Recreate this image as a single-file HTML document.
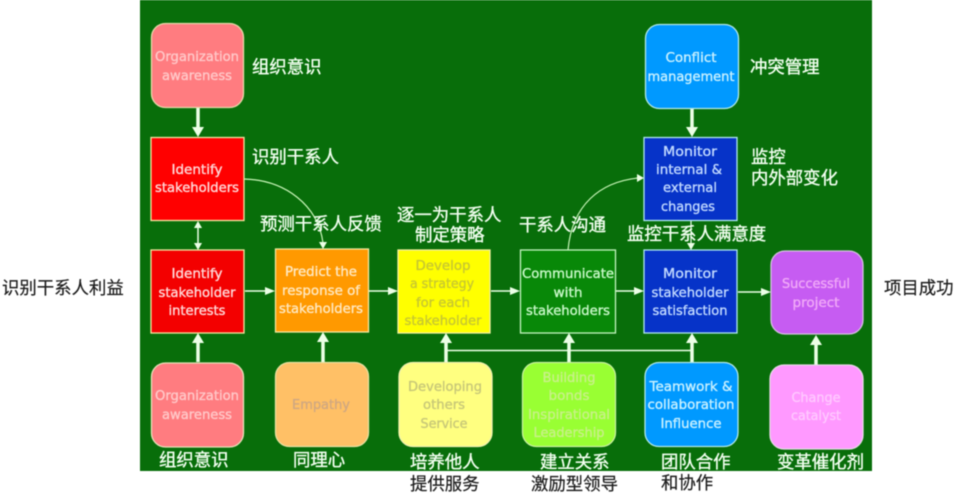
<!DOCTYPE html>
<html>
<head>
<meta charset="utf-8">
<style>
html,body{margin:0;padding:0;background:#fff;width:955px;height:498px;overflow:hidden}
svg{display:block;filter:blur(0.45px)}
.e{font-family:"DejaVu Sans","Liberation Sans",sans-serif;font-size:13.5px;text-anchor:middle}
.e g{stroke-width:.35}
.c{font-family:"Liberation Sans","Noto Sans CJK SC",sans-serif;font-size:17.4px;font-weight:400}
.w{fill:#f2fff0;stroke:#f2fff0;stroke-width:.35}
.d{fill:#1c1c1c;stroke:#1c1c1c;stroke-width:.2}
</style>
</head>
<body>
<svg width="955" height="498" viewBox="0 0 955 498" xmlns="http://www.w3.org/2000/svg">
<rect x="140" y="0" width="732" height="471" fill="#086e0a"/>

<!-- connectors -->
<g stroke="#ecffe6" fill="none">
<path d="M198 107V129M323 338V362M198 338V362M446 338V362M569 338V362M692 338V362M816 340V365M692 109V129" stroke-width="3.500"/>
<path d="M198 226V245M245 291H266M369 291H389M491 291H511M616 291H635M738 292H762" stroke-width="1.500"/>
<path d="M446 350.500H692" stroke-width="1.500"/>
<path d="M244 179C285 180 318 205 323 243" stroke-width="1.200" stroke="#c8f5b8"/>
<path d="M568 250C572 205 600 182 638 178" stroke-width="1.200" stroke="#c8f5b8"/>
<path d="M691 220V245" stroke-width="1.200"/>
</g>
<g fill="#ecffe6">
<path d="M192 127H204L198 137Z"/>
<path d="M686 127H698L692 137Z"/>
<path d="M192 343H204L198 333Z"/>
<path d="M317 342H329L323 332Z"/>
<path d="M440 343H452L446 333Z"/>
<path d="M563 343H575L569 333Z"/>
<path d="M686 343H698L692 333Z"/>
<path d="M810 345H822L816 335Z"/>
<path d="M194 228H202L198 221Z"/>
<path d="M194 243H202L198 250Z"/>
<path d="M265 287V295L275 291Z"/>
<path d="M388 287V295L398 291Z"/>
<path d="M510 287V295L520 291Z"/>
<path d="M634 287V295L644 291Z"/>
<path d="M761 288V296L771 292Z"/>
<path d="M319 242H327L323 249Z"/>
<path d="M687 243H695L691 250Z"/>
<path d="M637 174V182L644 178Z"/>
</g>

<!-- boxes -->
<g stroke-width="1.300">
<rect x="151.500" y="23.500" width="92" height="84" rx="14" fill="#ff7c80" stroke="#e8d8a8"/>
<rect x="151" y="137.500" width="93" height="83" fill="#ff0000" stroke="#f4e8a0"/>
<rect x="151" y="250" width="93" height="83" fill="#f30000" stroke="#f4e8a0"/>
<rect x="275.500" y="249" width="93" height="83" fill="#ff9900" stroke="#f4e8a0"/>
<rect x="398" y="250" width="92" height="83" fill="#ffff00" stroke="#f4f0a0"/>
<rect x="520.500" y="250" width="95" height="83" fill="#088808" stroke="#c4f4c0"/>
<rect x="644" y="250" width="93" height="83" fill="#0633c8" stroke="#b0e8f0"/>
<rect x="771" y="251" width="92" height="83" rx="14" fill="#c65cf2" stroke="#d4c0e0"/>
<rect x="151.500" y="363" width="92" height="84" rx="14" fill="#ff7c80" stroke="#e8e0b8"/>
<rect x="275.500" y="362.500" width="93" height="84" rx="14" fill="#ffc066" stroke="#e8e0a0"/>
<rect x="399" y="362.500" width="93" height="84" rx="14" fill="#ffff80" stroke="#f0f0b0"/>
<rect x="522.500" y="362.500" width="93" height="84" rx="14" fill="#99ff33" stroke="#c8f0a0"/>
<rect x="645" y="362.500" width="93" height="84" rx="14" fill="#0099ff" stroke="#b0e8e8"/>
<rect x="770" y="365" width="93" height="84" rx="14" fill="#ff99ff" stroke="#e8d8e8"/>
<rect x="645.500" y="24.500" width="93" height="84" rx="14" fill="#0099ff" stroke="#b0e8e8"/>
<rect x="644" y="137.500" width="93" height="83" fill="#0633c8" stroke="#b0e8f0"/>
</g>

<!-- english labels -->
<g class="e">
<g fill="#ffc8c8" stroke="#ffc8c8">
<text x="197" y="61" textLength="84" lengthAdjust="spacingAndGlyphs">Organization</text>
<text x="197" y="80" textLength="70" lengthAdjust="spacingAndGlyphs">awareness</text>
<text x="197" y="400" textLength="84" lengthAdjust="spacingAndGlyphs">Organization</text>
<text x="197" y="419" textLength="70" lengthAdjust="spacingAndGlyphs">awareness</text>
</g>
<g fill="#ffd8d8" stroke="#ffd8d8">
<text x="197" y="174" textLength="51" lengthAdjust="spacingAndGlyphs">Identify</text>
<text x="197" y="192" textLength="84" lengthAdjust="spacingAndGlyphs">stakeholders</text>
<text x="197" y="278" textLength="51" lengthAdjust="spacingAndGlyphs">Identify</text>
<text x="197" y="297" textLength="77" lengthAdjust="spacingAndGlyphs">stakeholder</text>
<text x="197" y="315" textLength="57" lengthAdjust="spacingAndGlyphs">interests</text>
</g>
<g fill="#ffe8c0" stroke="#ffe8c0">
<text x="321" y="276" textLength="72" lengthAdjust="spacingAndGlyphs">Predict the</text>
<text x="321" y="295" textLength="78" lengthAdjust="spacingAndGlyphs">response of</text>
<text x="321" y="313" textLength="84" lengthAdjust="spacingAndGlyphs">stakeholders</text>
</g>
<g fill="#c8c830" stroke="#c8c830">
<text x="443" y="270" textLength="55" lengthAdjust="spacingAndGlyphs">Develop</text>
<text x="442" y="288" textLength="64" lengthAdjust="spacingAndGlyphs">a strategy</text>
<text x="443" y="307" textLength="54" lengthAdjust="spacingAndGlyphs">for each</text>
<text x="443" y="325" textLength="77" lengthAdjust="spacingAndGlyphs">stakeholder</text>
</g>
<g fill="#c8f8c8" stroke="#c8f8c8">
<text x="568" y="278" textLength="92" lengthAdjust="spacingAndGlyphs">Communicate</text>
<text x="568" y="297" textLength="29" lengthAdjust="spacingAndGlyphs">with</text>
<text x="568" y="315" textLength="84" lengthAdjust="spacingAndGlyphs">stakeholders</text>
</g>
<g fill="#c0d8ff" stroke="#c0d8ff">
<text x="690" y="278" textLength="54" lengthAdjust="spacingAndGlyphs">Monitor</text>
<text x="690" y="297" textLength="77" lengthAdjust="spacingAndGlyphs">stakeholder</text>
<text x="690" y="315" textLength="75" lengthAdjust="spacingAndGlyphs">satisfaction</text>
<text x="690" y="156" textLength="54" lengthAdjust="spacingAndGlyphs">Monitor</text>
<text x="689" y="174" textLength="66" lengthAdjust="spacingAndGlyphs">internal &amp;</text>
<text x="690" y="192" textLength="54" lengthAdjust="spacingAndGlyphs">external</text>
<text x="688" y="211" textLength="54" lengthAdjust="spacingAndGlyphs">changes</text>
</g>
<g fill="#f0a8f8" stroke="#f0a8f8">
<text x="816" y="288" textLength="68" lengthAdjust="spacingAndGlyphs">Successful</text>
<text x="816" y="307" textLength="47" lengthAdjust="spacingAndGlyphs">project</text>
</g>
<g fill="#d0a880" stroke="#d0a880">
<text x="321" y="409" textLength="58" lengthAdjust="spacingAndGlyphs">Empathy</text>
</g>
<g fill="#c8c878" stroke="#c8c878">
<text x="445" y="391" textLength="74" lengthAdjust="spacingAndGlyphs">Developing</text>
<text x="444" y="409" textLength="42" lengthAdjust="spacingAndGlyphs">others</text>
<text x="444" y="428" textLength="47" lengthAdjust="spacingAndGlyphs">Service</text>
</g>
<g fill="#c8f088" stroke="#c8f088">
<text x="569" y="382" textLength="53" lengthAdjust="spacingAndGlyphs">Building</text>
<text x="569" y="400" textLength="41" lengthAdjust="spacingAndGlyphs">bonds</text>
<text x="569" y="419" textLength="82" lengthAdjust="spacingAndGlyphs">Inspirational</text>
<text x="569" y="437" textLength="71" lengthAdjust="spacingAndGlyphs">Leadership</text>
</g>
<g fill="#c8f0ff" stroke="#c8f0ff">
<text x="691" y="391" textLength="83" lengthAdjust="spacingAndGlyphs">Teamwork &amp;</text>
<text x="691" y="409" textLength="87" lengthAdjust="spacingAndGlyphs">collaboration</text>
<text x="691" y="428" textLength="61" lengthAdjust="spacingAndGlyphs">Influence</text>
<text x="691" y="62" textLength="51" lengthAdjust="spacingAndGlyphs">Conflict</text>
<text x="691" y="81" textLength="87" lengthAdjust="spacingAndGlyphs">management</text>
</g>
<g fill="#ffc8ff" stroke="#ffc8ff">
<text x="816" y="402" textLength="49" lengthAdjust="spacingAndGlyphs">Change</text>
<text x="816" y="420" textLength="50" lengthAdjust="spacingAndGlyphs">catalyst</text>
</g>
</g>

<!-- chinese labels -->
<g class="c w">
<text x="252" y="73">组织意识</text>
<text x="252" y="163">识别干系人</text>
<text x="260" y="230">预测干系人反馈</text>
<text x="397" y="221">逐一为干系人</text>
<text x="415" y="241">制定策略</text>
<text x="519" y="231">干系人沟通</text>
<text x="627" y="240">监控干系人满意度</text>
<text x="750" y="73">冲突管理</text>
<text x="751" y="163">监控</text>
<text x="751" y="184">内外部变化</text>
<text x="159" y="466">组织意识</text>
<text x="293" y="466">同理心</text>
<text x="410" y="468">培养他人</text>
<text x="540" y="468">建立关系</text>
<text x="661" y="468">团队合作</text>
<text x="777" y="468">变革催化剂</text>
</g>
<g class="c d">
<text x="2" y="294">识别干系人利益</text>
<text x="884" y="294">项目成功</text>
<text x="410" y="490">提供服务</text>
<text x="531" y="490">激励型领导</text>
<text x="661" y="489">和协作</text>
</g>
</svg>
</body>
</html>
